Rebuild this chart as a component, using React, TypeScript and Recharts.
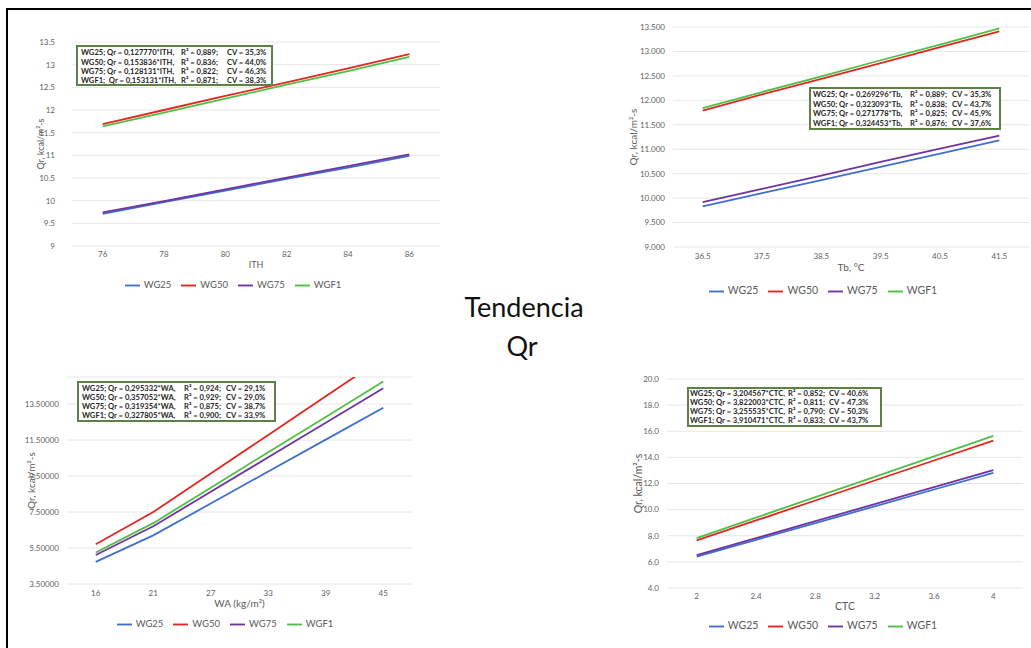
import React from 'react';
import { LineChart, Line, XAxis, YAxis, CartesianGrid, Legend } from 'recharts';

const FONT = 'Lato, "Open Sans", "Liberation Sans", sans-serif';

// ---------- data ----------
const seriesNames = ['WG25', 'WG50', 'WG75', 'WGF1'];
const seriesColors = ['#3f6fd1', '#e3261f', '#7034a0', '#4fbf45'];

const ithCategories = ['76', '78', '80', '82', '84', '86'];
const ithWG25 = [9.71, 9.97, 10.22, 10.48, 10.73, 10.99];
const ithWG50 = [11.69, 12.0, 12.31, 12.61, 12.92, 13.23];
const ithWG75 = [9.74, 9.99, 10.25, 10.51, 10.76, 11.02];
const ithWGF1 = [11.64, 11.94, 12.25, 12.56, 12.86, 13.17];
const ithTicks = [9, 9.5, 10, 10.5, 11, 11.5, 12, 12.5, 13, 13.5];

const tbCategories = ['36.5', '37.5', '38.5', '39.5', '40.5', '41.5'];
const tbWG25 = [9.83, 10.1, 10.37, 10.64, 10.91, 11.18];
const tbWG50 = [11.79, 12.12, 12.44, 12.76, 13.09, 13.41];
const tbWG75 = [9.92, 10.19, 10.46, 10.74, 11.01, 11.28];
const tbWGF1 = [11.84, 12.17, 12.49, 12.82, 13.14, 13.47];
const tbTicks = [9, 9.5, 10, 10.5, 11, 11.5, 12, 12.5, 13, 13.5];

const waCategories = ['16', '21', '27', '33', '39', '45'];
const waWG25 = [4.73, 6.2, 7.97, 9.75, 11.52, 13.29];
const waWG50 = [5.71, 7.5, 9.64, 11.78, 13.93, 16.07];
const waWG75 = [5.11, 6.71, 8.62, 10.54, 12.46, 14.37];
const waWGF1 = [5.25, 6.88, 8.85, 10.82, 12.78, 14.75];
const waTicks = [3.5, 5.5, 7.5, 9.5, 11.5, 13.5];

const ctcCategories = ['2', '2.4', '2.8', '3.2', '3.6', '4'];
const ctcWG25 = [6.41, 7.69, 8.97, 10.25, 11.54, 12.82];
const ctcWG50 = [7.64, 9.17, 10.7, 12.23, 13.76, 15.29];
const ctcWG75 = [6.51, 7.81, 9.12, 10.42, 11.72, 13.02];
const ctcWGF1 = [7.82, 9.39, 10.95, 12.51, 14.08, 15.64];
const ctcTicks = [4, 6, 8, 10, 12, 14, 16, 18, 20];

const ithEquations = [
  ['WG25; Qr = 0,127770*ITH,', 'R² = 0,889;', 'CV = 35,3%'],
  ['WG50; Qr = 0,153836*ITH,', 'R² = 0,836;', 'CV = 44,0%'],
  ['WG75; Qr = 0,128131*ITH,', 'R² = 0,822;', 'CV = 46,3%'],
  ['WGF1;  Qr = 0,153131*ITH,', 'R² = 0,871;', 'CV = 38,3%'],
];
const tbEquations = [
  ['WG25; Qr = 0,269296*Tb,', 'R² = 0,889;', 'CV = 35,3%'],
  ['WG50; Qr = 0,323093*Tb,', 'R² = 0,838;', 'CV = 43,7%'],
  ['WG75; Qr = 0,271778*Tb,', 'R² = 0,825;', 'CV = 45,9%'],
  ['WGF1; Qr = 0,324453*Tb,', 'R² = 0,876;', 'CV = 37,6%'],
];
const waEquations = [
  ['WG25; Qr = 0,295332*WA,', 'R² = 0,924;', 'CV = 29,1%'],
  ['WG50; Qr = 0,357052*WA,', 'R² = 0,929;', 'CV = 29,0%'],
  ['WG75; Qr = 0,319354*WA,', 'R² = 0,875;', 'CV = 38,7%'],
  ['WGF1; Qr = 0,327805*WA,', 'R² = 0,900;', 'CV = 33,9%'],
];
const ctcEquations = [
  ['WG25; Qr = 3,204567*CTC,', 'R² = 0,852;', 'CV = 40,6%'],
  ['WG50; Qr = 3,822003*CTC,', 'R² = 0,811;', 'CV = 47,3%'],
  ['WG75; Qr = 3,255535*CTC,', 'R² = 0,790;', 'CV = 50,3%'],
  ['WGF1; Qr = 3,910471*CTC,', 'R² = 0,833;', 'CV = 43,7%'],
];

const yTitle = 'Qr, kcal/m²-s';

// ---------- components ----------
type PanelProps = {
  cx: number; cy: number; cw: number; ch: number;
  L: number; T: number; R: number; B: number;
  categories: string[];
  series: number[][];
  domain: [number, number];
  ticks: number[];
  fmt: (v: number) => string;
  xTitle: string;
  yTitleX: number;
  xTitleY: number;
  yTickMargin: number;
  xTickMargin: number;
  tickFont: number;
  titleFont: number;
  legendX: number;
  legendY: number;
  legendFont: number;
};

function Panel(p: PanelProps) {
  const data = p.categories.map((c, i) => {
    const row: any = { cat: c };
    seriesNames.forEach((n, k) => {
      row[n] = p.series[k][i];
    });
    return row;
  });
  const pad = (p.R - p.L) / 12;
  const tickStyle = { fontSize: p.tickFont, fill: '#5f5f5f', fontFamily: FONT };
  const titleStyle = { fontSize: p.titleFont, fill: '#5a5a5a', fontFamily: FONT };
  return (
    <div style={{ position: 'absolute', left: p.cx, top: p.cy, width: p.cw, height: p.ch }}>
      <LineChart
        width={p.cw}
        height={p.ch}
        data={data}
        margin={{ top: p.T - p.cy, right: p.cx + p.cw - p.R, left: 0, bottom: 0 }}
      >
        <CartesianGrid vertical={false} stroke="#e6e6e6" />
        <XAxis
          dataKey="cat"
          height={p.cy + p.ch - p.B}
          axisLine={false}
          tickLine={false}
          tickSize={0}
          tickMargin={p.xTickMargin}
          interval={0}
          padding={{ left: pad, right: pad }}
          tick={tickStyle}
          label={{
            value: p.xTitle,
            position: 'insideTop',
            offset: p.xTitleY - p.titleFont / 2 - p.B,
            style: { ...titleStyle, textAnchor: 'middle' },
          }}
        />
        <YAxis
          type="number"
          width={p.L - p.cx}
          domain={p.domain}
          ticks={p.ticks}
          interval={0}
          allowDataOverflow
          axisLine={false}
          tickLine={false}
          tickSize={0}
          tickMargin={p.yTickMargin}
          tickFormatter={p.fmt}
          tick={tickStyle}
          label={{
            value: yTitle,
            angle: -90,
            position: 'insideLeft',
            offset: p.yTitleX - p.cx,
            style: { ...titleStyle, textAnchor: 'middle' },
          }}
        />
        <Legend
          verticalAlign="middle"
          align="center"
          layout="horizontal"
          iconType="plainline"
          iconSize={15}
          formatter={(v: any) => <span style={{ color: '#5a5a5a' }}>{v}</span>}
          wrapperStyle={{
            left: p.legendX - p.cx - 150,
            width: 300,
            top: p.legendY - p.cy - 7,
            height: 14,
            lineHeight: '14px',
            fontSize: p.legendFont,
            fontFamily: FONT,
            margin: 0,
          }}
        />
        {seriesNames.map((n, k) => (
          <Line
            key={n}
            type="linear"
            dataKey={n}
            name={n}
            stroke={seriesColors[k]}
            strokeWidth={1.8}
            dot={false}
            activeDot={false}
            isAnimationActive={false}
          />
        ))}
      </LineChart>
    </div>
  );
}

type BoxProps = {
  left: number; top: number; width: number; height: number;
  x0: number; xR: number; xCV: number; lineY: number[];
  lines: string[][];
};

function EqBox(b: BoxProps) {
  return (
    <div>
      <div
        style={{
          position: 'absolute',
          left: b.left,
          top: b.top,
          width: b.width,
          height: b.height,
          border: '2px solid #5e7f46',
          boxSizing: 'border-box',
          background: '#ffffff',
        }}
      />
      {b.lines.map((ln, i) =>
        ln.map((part, j) => (
          <div
            key={i + '-' + j}
            style={{
              position: 'absolute',
              left: j === 0 ? b.x0 : j === 1 ? b.xR : b.xCV,
              top: b.lineY[i] - 5,
              height: 10,
              lineHeight: '10px',
              fontSize: 7.6,
              fontWeight: 700,
              fontFamily: FONT,
              color: '#262626',
              whiteSpace: 'pre',
            }}
          >
            {part}
          </div>
        ))
      )}
    </div>
  );
}

export default function App() {
  return (
    <div
      style={{
        position: 'absolute',
        left: 0,
        top: 0,
        width: 1031,
        height: 648,
        background: '#ffffff',
        overflow: 'hidden',
        fontFamily: FONT,
      }}
    >
      <Panel
        cx={0} cy={0} cw={460} ch={300}
        L={72} T={42} R={440} B={246}
        categories={ithCategories}
        series={[ithWG25, ithWG50, ithWG75, ithWGF1]}
        domain={[9, 13.5]}
        ticks={ithTicks}
        fmt={(v) => String(v)}
        xTitle="ITH"
        yTitleX={41}
        xTitleY={266}
        yTickMargin={17}
        xTickMargin={5}
        tickFont={8}
        titleFont={9}
        legendX={238}
        legendY={285}
        legendFont={9.5}
      />
      <Panel
        cx={600} cy={0} cw={431} ch={310}
        L={673} T={27} R={1029} B={247}
        categories={tbCategories}
        series={[tbWG25, tbWG50, tbWG75, tbWGF1]}
        domain={[9, 13.5]}
        ticks={tbTicks}
        fmt={(v) => v.toFixed(3)}
        xTitle="Tb, °C"
        yTitleX={633}
        xTitleY={269}
        yTickMargin={8}
        xTickMargin={6}
        tickFont={8}
        titleFont={10}
        legendX={828}
        legendY={290}
        legendFont={10.5}
      />
      <Panel
        cx={0} cy={330} cw={460} ch={318}
        L={67} T={377} R={412} B={584}
        categories={waCategories}
        series={[waWG25, waWG50, waWG75, waWGF1]}
        domain={[3.5, 15]}
        ticks={waTicks}
        fmt={(v) => v.toFixed(5)}
        xTitle="WA (kg/m²)"
        yTitleX={31}
        xTitleY={605}
        yTickMargin={8}
        xTickMargin={6}
        tickFont={8}
        titleFont={10}
        legendX={230}
        legendY={624}
        legendFont={9.5}
      />
      <Panel
        cx={600} cy={330} cw={431} ch={318}
        L={667} T={379} R={1023} B={588}
        categories={ctcCategories}
        series={[ctcWG25, ctcWG50, ctcWG75, ctcWGF1]}
        domain={[4, 20]}
        ticks={ctcTicks}
        fmt={(v) => v.toFixed(1)}
        xTitle="CTC"
        yTitleX={638}
        xTitleY={608}
        yTickMargin={8}
        xTickMargin={5}
        tickFont={8}
        titleFont={10.5}
        legendX={828}
        legendY={625}
        legendFont={10.5}
      />

      <EqBox left={76} top={45} width={197} height={41} x0={81} xR={181} xCV={227} lineY={[52, 61.5, 71, 80]} lines={ithEquations} />
      <EqBox left={809} top={87} width={192} height={43} x0={813} xR={910} xCV={952} lineY={[94, 103.5, 113, 122.5]} lines={tbEquations} />
      <EqBox left={77} top={381} width={199} height={41} x0={82} xR={184} xCV={226} lineY={[388, 397, 406, 415]} lines={waEquations} />
      <EqBox left={687} top={387} width={195} height={40} x0={690} xR={788} xCV={829} lineY={[393, 402, 411, 420]} lines={ctcEquations} />

      <svg
        width={1031}
        height={648}
        style={{ position: 'absolute', left: 0, top: 0, pointerEvents: 'none' }}
      >
        <text x={524} y={317} textAnchor="middle" fontSize={27} fontFamily={FONT} fill="#111111">
          Tendencia
        </text>
        <text x={522} y={356} textAnchor="middle" fontSize={27} fontFamily={FONT} fill="#111111">
          Qr
        </text>
      </svg>

      <div
        style={{
          position: 'absolute',
          left: 6,
          top: 8,
          width: 1100,
          height: 700,
          borderLeft: '2px solid #000',
          borderTop: '2px solid #000',
        }}
      />
    </div>
  );
}
